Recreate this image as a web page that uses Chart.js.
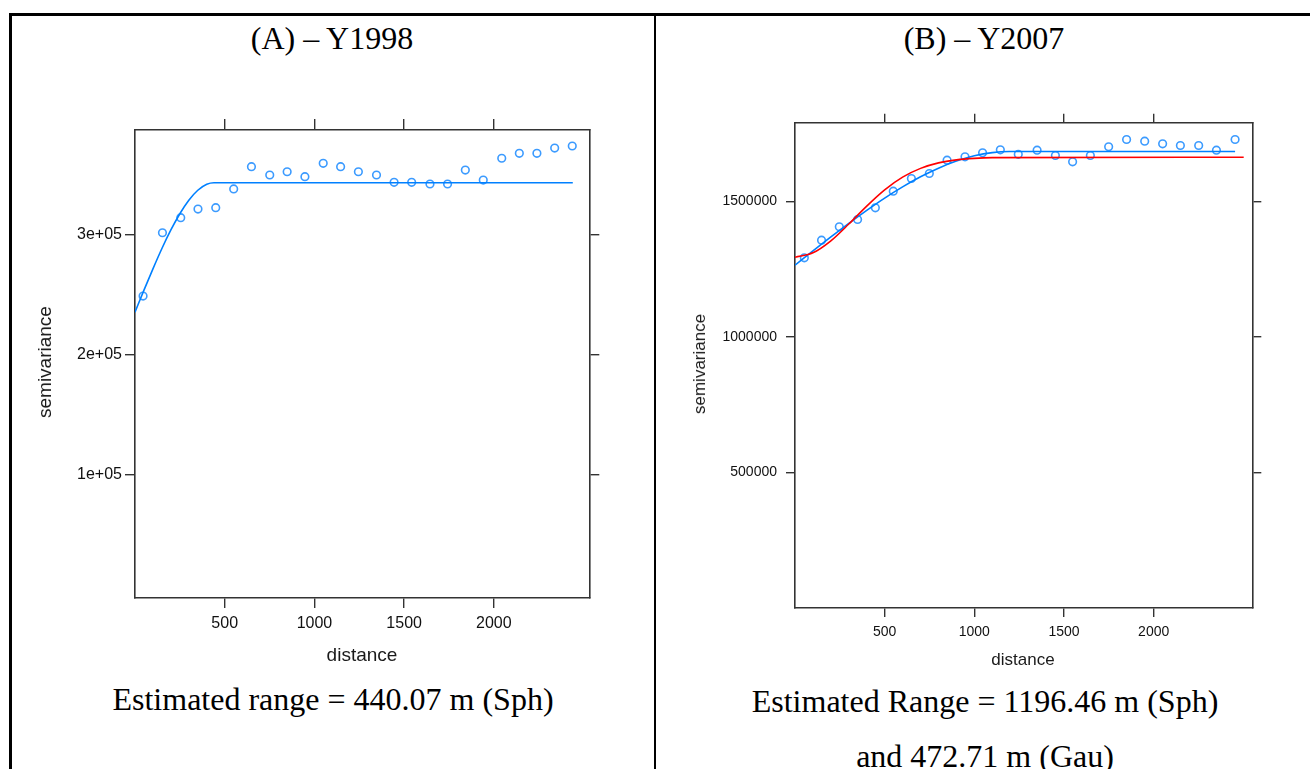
<!DOCTYPE html>
<html>
<head>
<meta charset="utf-8">
<script src="https://cdn.jsdelivr.net/npm/chart.js@4.4.0/dist/chart.umd.min.js"></script>
<style>
  body { margin: 0; width: 1310px; height: 769px; overflow: hidden; background: #fff; position: relative;
         font-family: "Liberation Sans", Arial, sans-serif; }
  .t { position: absolute; transform: translate(-50%, -50%); white-space: nowrap; }
  .serif { font-family: "Liberation Serif", "Times New Roman", serif; font-size: 32px; color: #000; }
  .ax { color: #1a1a1a; }
  .rot { transform: translate(-50%, -50%) rotate(-90deg); }
  canvas { position: absolute; }
  .rule { position: absolute; background: #000; }
</style>
</head>
<body>
<!-- table rules -->
<div class="rule" style="left:9px;top:13px;width:1301px;height:2.5px"></div>
<div class="rule" style="left:9px;top:13px;width:2.5px;height:756px"></div>
<div class="rule" style="left:654px;top:13px;width:2px;height:756px"></div>

<div class="t serif" style="left:332px;top:38px">(A) – Y1998</div>
<div class="t serif" style="left:984px;top:38px">(B) – Y2007</div>

<canvas id="chartA" width="600" height="560" style="left:20px;top:100px"></canvas>
<canvas id="chartB" width="600" height="570" style="left:680px;top:95px"></canvas>

<div class="t ax rot" style="left:45px;top:362px;font-size:19px">semivariance</div>
<div class="t ax" style="left:362px;top:655px;font-size:19px">distance</div>
<div class="t ax rot" style="left:700px;top:364px;font-size:17px">semivariance</div>
<div class="t ax" style="left:1023px;top:660px;font-size:17px">distance</div>

<div class="t serif" style="left:333px;top:699px">Estimated range = 440.07 m (Sph)</div>
<div class="t serif" style="left:985px;top:701px">Estimated Range = 1196.46 m (Sph)</div>
<div class="t serif" style="left:985px;top:756px">and 472.71 m (Gau)</div>

<script>
// (A) Y1998 sample variogram
const distA = [45, 153, 255, 351, 450, 550, 649, 751, 848, 947, 1049, 1146, 1245,
               1346, 1444, 1542, 1644, 1742, 1841, 1941, 2044, 2142, 2240, 2339, 2437];
const gammaA = [248700, 301300, 313800, 321000, 322100, 337700, 356200, 349300, 352000,
                347900, 359000, 356200, 352000, 349300, 343200, 343200, 341800, 341800,
                353400, 345100, 363200, 367300, 367300, 371700, 373400];
// (A) fitted spherical model
const fitDistA = [0, 50, 100, 150, 200, 250, 300, 350, 400, 440, 2440];
const fitA = [235300, 253600, 271300, 288200, 303600, 317100, 328300, 336600, 341600, 342900, 342900];

// (B) Y2007 sample variogram
const distB = [52, 148, 247, 349, 448, 548, 649, 749, 848, 948, 1046, 1145, 1245,
               1350, 1452, 1548, 1647, 1749, 1849, 1950, 2050, 2149, 2251, 2350, 2454];
const gammaB = [1291300, 1356200, 1405600, 1432500, 1475700, 1536900, 1583700, 1602100,
                1651200, 1663700, 1678500, 1689500, 1673000, 1688100, 1668500, 1645300,
                1668500, 1700600, 1727500, 1721300, 1711700, 1705400, 1705400, 1688100, 1727500];
// (B) fitted spherical (blue) and gaussian (red) models
const sphDistB = [0, 100, 200, 300, 400, 500, 600, 700, 800, 900, 1000, 1100, 1196, 2454];
const sphB = [1264000, 1316500, 1368200, 1418400, 1466400, 1511600, 1552900, 1590000,
              1621900, 1647900, 1667300, 1679300, 1683300, 1683300];
const gauDistB = [0, 100, 200, 300, 400, 500, 600, 700, 800, 900, 1000, 1100, 2502];
const gauB = [1293500, 1309700, 1353900, 1415800, 1482100, 1541900, 1588700, 1621100,
              1641300, 1652500, 1658100, 1660600, 1662300];

const xTicks = [500, 1000, 1500, 2000];
const yTicksA = [100000, 200000, 300000];
const yTicksB = [500000, 1000000, 1500000];

const pointBlue = "rgb(60,155,255)";
const lineBlue = "rgb(0,128,255)";
const lineRed = "rgb(255,0,0)";
const frame = "#333";

function pairs(xs, ys) {
  return xs.map((x, i) => ({ x: x, y: ys[i] }));
}

function axis(opts) {
  // lattice-style axis: outward ticks, labels only on bottom/left
  return {
    type: "linear",
    position: opts.position,
    min: opts.min,
    max: opts.max,
    grid: { display: true, drawOnChartArea: false, drawTicks: true,
            tickLength: opts.tickLength, color: frame, lineWidth: 1.4 },
    border: { display: true, color: frame, width: 1.6 },
    ticks: {
      display: opts.labels,
      padding: opts.padding || 3,
      color: "#111",
      font: { family: "Liberation Sans", size: opts.fontSize },
      callback: opts.format || ((v) => String(v)),
    },
    afterBuildTicks: (scale) => {
      scale.ticks = opts.ticks.map((v) => ({ value: v }));
    },
    afterFit: (scale) => {
      if (scale.isHorizontal()) scale.height = opts.size;
      else scale.width = opts.size;
    },
  };
}

function pointSet(data) {
  return {
    data: data,
    showLine: false,
    pointStyle: "circle",
    pointRadius: 3.8,
    pointBorderWidth: 1.6,
    pointBorderColor: pointBlue,
    pointBackgroundColor: "rgba(0,0,0,0)",
  };
}

function lineSet(data, color) {
  return {
    data: data,
    showLine: true,
    borderColor: color,
    borderWidth: 1.6,
    pointRadius: 0,
    cubicInterpolationMode: "monotone",
  };
}

const common = {
  responsive: false,
  animation: false,
  layout: { padding: 0 },
  plugins: { legend: { display: false }, tooltip: { enabled: false } },
};

new Chart(document.getElementById("chartA"), {
  type: "scatter",
  data: {
    datasets: [
      lineSet(pairs(fitDistA, fitA), lineBlue),
      pointSet(pairs(distA, gammaA)),
    ],
  },
  options: Object.assign({}, common, {
    scales: {
      x: axis({ position: "bottom", min: 0, max: 2532, ticks: xTicks, labels: true,
                size: 62, tickLength: 10, fontSize: 16, padding: 6 }),
      x2: axis({ position: "top", min: 0, max: 2532, ticks: xTicks, labels: false,
                 size: 30, tickLength: 11 }),
      y: axis({ position: "left", min: -2300, max: 386700, ticks: yTicksA, labels: true,
                size: 115, tickLength: 10, fontSize: 16, padding: 3,
                format: (v) => v / 100000 + "e+05" }),
      y2: axis({ position: "right", min: -2300, max: 386700, ticks: yTicksA, labels: false,
                 size: 30.7, tickLength: 10 }),
    },
  }),
});

new Chart(document.getElementById("chartB"), {
  type: "scatter",
  data: {
    datasets: [
      lineSet(pairs(gauDistB, gauB), lineRed),
      lineSet(pairs(sphDistB, sphB), lineBlue),
      pointSet(pairs(distB, gammaB)),
    ],
  },
  options: Object.assign({}, common, {
    scales: {
      x: axis({ position: "bottom", min: 0, max: 2550, ticks: xTicks, labels: true,
                size: 57, tickLength: 9, fontSize: 14, padding: 7 }),
      x2: axis({ position: "top", min: 0, max: 2550, ticks: xTicks, labels: false,
                 size: 27.7, tickLength: 9 }),
      y: axis({ position: "left", min: 0, max: 1789500, ticks: yTicksB, labels: true,
                size: 115, tickLength: 9, fontSize: 14, padding: 9 }),
      y2: axis({ position: "right", min: 0, max: 1789500, ticks: yTicksB, labels: false,
                 size: 27.7, tickLength: 9 }),
    },
  }),
});
</script>
</body>
</html>
